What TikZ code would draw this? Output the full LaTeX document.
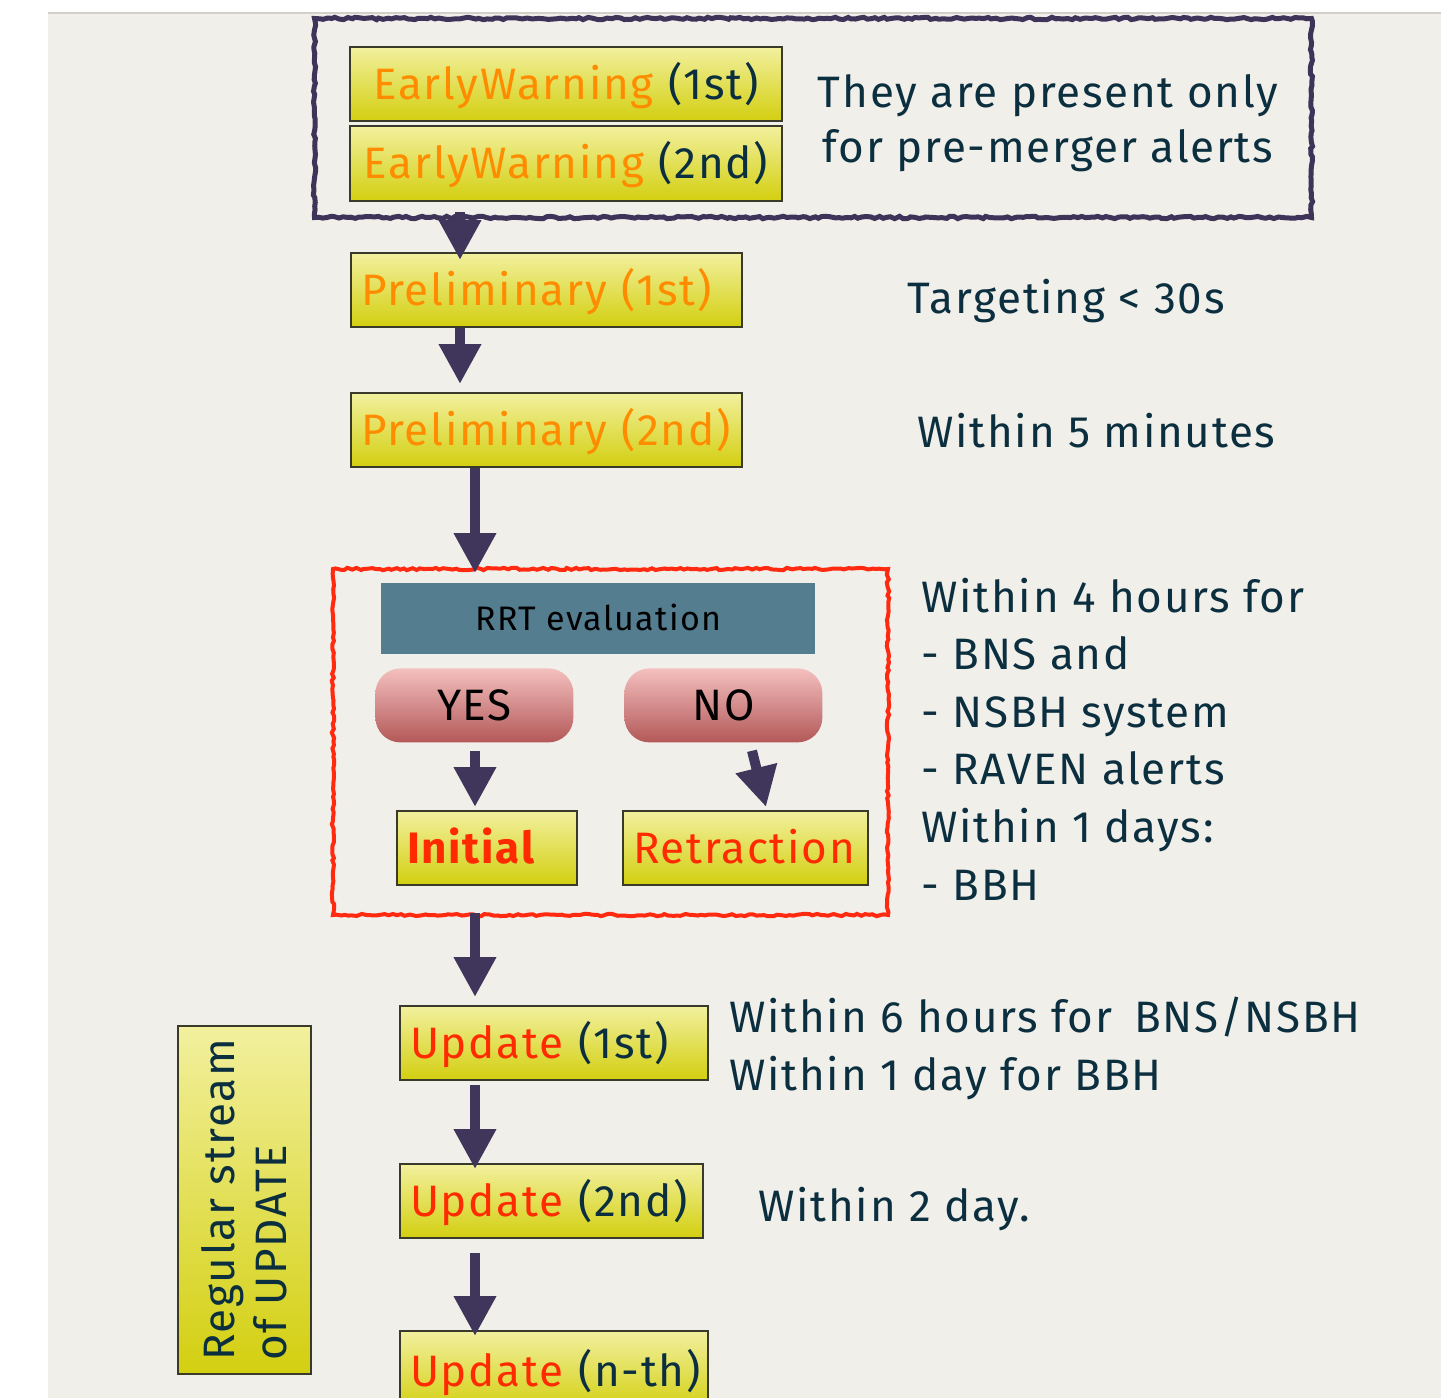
\documentclass[tikz,border=0pt]{standalone}
\usepackage{fontspec}
\setmainfont{Fira Sans}[Ligatures=NoCommon, LetterSpace=4]
\usetikzlibrary{arrows.meta,calc,decorations.pathmorphing}
\definecolor{paper}{HTML}{F1EFEA}
\definecolor{paperedge}{HTML}{D2CFCA}
\definecolor{frameP}{HTML}{3E3359}
\definecolor{arrowC}{HTML}{40355A}
\definecolor{ytop}{HTML}{F2F09E}
\definecolor{ybot}{HTML}{D3CF10}
\definecolor{yborder}{HTML}{3A3A2A}
\definecolor{orangeT}{HTML}{FF8C00}
\definecolor{darkT}{HTML}{0B2F3F}
\definecolor{redT}{HTML}{FF2A00}
\definecolor{frameR}{HTML}{FF2A10}
\definecolor{rrtC}{HTML}{547E90}
\definecolor{ptop}{HTML}{F4C0BF}
\definecolor{pbot}{HTML}{B35858}
\tikzset{
  ybox/.style={draw=yborder, line width=1pt, top color=ytop, bottom color=ybot,
    inner xsep=5pt, inner ysep=0pt, text width=#1, minimum height=37pt,
    text height=15pt, text depth=0pt, anchor=north west, text=darkT,
    font=\fontsize{22}{25}\selectfont},
  sketchframe/.style={line width=2.5pt, decorate,
    decoration={random steps, segment length=2pt, amplitude=0.6pt},
    anchor=north west, inner sep=0pt},
  pill/.style={rounded corners=12.5pt, top color=ptop, bottom color=pbot,
    minimum width=99pt, minimum height=37pt, anchor=north west, inner sep=0pt,
    text height=15pt, text depth=0pt, text=black, font=\fontsize{22}{25}\selectfont},
  rtext/.style={inner sep=0pt, text=darkT, font=\fontsize{22}{24}\selectfont},
  arr/.style={draw=arrowC, line width=5pt, -{Triangle[width=20pt,length=20pt]}},
}
\begin{document}
\pgfmathsetseed{7}
\begin{tikzpicture}[x=0.5pt,y=-0.5pt]
\useasboundingbox (0,0) rectangle (1441,1398);
\clip (0,0) rectangle (1441,1398);
\fill[white] (0,0) rectangle (1441,1398);
\fill[paper] (48,12) rectangle (1441,1398);
\draw[paperedge, line width=1pt] (48,12.5) -- (1441,12.5);

% frames
\node[sketchframe, draw=frameP, minimum width=498.5pt, minimum height=99.5pt] (pfr) at (312,16) {};
\node[sketchframe, draw=frameR, line width=2pt, minimum width=277.5pt, minimum height=173pt] (rfr) at (331,567) {};

% early warning
\node[ybox=206pt, align=center] (ew1) at (349,46) {\textcolor{orangeT}{EarlyWarning} (1st)};
\node[ybox=206pt, align=center, minimum height=37.5pt] (ew2) at (349,125) {\textcolor{orangeT}{EarlyWarning} (2nd)};

% preliminary
\node[ybox=185.5pt, align=left, text=orangeT] (pre1) at (350,252) {Preliminary (1st)};
\node[ybox=185.5pt, align=left, text=orangeT] (pre2) at (350,392) {Preliminary (2nd)};

% RRT
\node[fill=rrtC, minimum width=217pt, minimum height=35.5pt, anchor=north west, inner sep=0pt,
  text height=11.7pt, text depth=0pt,
  text=black, font=\fontsize{17}{20}\selectfont] (rrt) at (381,583) {RRT evaluation};
\node[pill] (yes) at (375,668) {YES};
\node[pill] (no) at (624,668) {NO};
\node[ybox=80pt, align=left, text=redT, font=\fontsize{22}{25}\selectfont\bfseries] (init) at (396,810) {Initial};
\node[ybox=112.5pt, align=left, text=redT] (retr) at (622,810) {Retraction};

% updates
\node[ybox=144pt, align=left] (up1) at (399,1005) {\textcolor{redT}{Update} (1st)};
\node[ybox=141.5pt, align=left] (up2) at (399,1163) {\textcolor{redT}{Update} (2nd)};
\node[ybox=144pt, align=left, minimum height=40pt] (upn) at (399,1330) {\mbox{\textcolor{redT}{Update} (n-th)}};

% regular stream
\node[rotate=90, draw=yborder, line width=1pt, top color=ytop, bottom color=ybot,
  minimum width=174pt, minimum height=66.5pt, inner sep=0pt, align=left, text=darkT,
  font=\fontsize{22}{26}\selectfont] (reg) at (244.5,1200) {Regular stream\\of UPDATE};

% right texts
\node[rtext, anchor=base] (t1a) at (1048,107) {They are present only};
\node[rtext, anchor=base] (t1b) at (1048,162) {for pre-merger alerts};
\node[rtext, anchor=base west] (t2) at (907,313) {Targeting < 30s};
\node[rtext, anchor=base west] (t3) at (917,447) {Within 5 minutes};
\node[rtext, anchor=base west] (t4) at (921,612) {Within 4 hours for};
\node[rtext, anchor=base west] (t5) at (921,669) {- BNS and};
\node[rtext, anchor=base west] (t6) at (921,727) {- NSBH system};
\node[rtext, anchor=base west] (t7) at (921,784) {- RAVEN alerts};
\node[rtext, anchor=base west] (t8) at (921,842) {Within 1 days:};
\node[rtext, anchor=base west] (t9) at (921,900) {- BBH};
\node[rtext, anchor=base west] (t10) at (729,1032) {Within 6 hours for\hspace{0.5em}BNS/NSBH};
\node[rtext, anchor=base west] (t11) at (729,1090) {Within 1 day for BBH};
\node[rtext, anchor=base west] (t12) at (758,1221) {Within 2 day.};

% arrows
\draw[arr] ($(pfr.south west)+(148,-8)$) -- ($(pre1.north west)+(110,8)$);
\draw[arr] ($(pre1.south west)+(110,0)$) -- ($(pre2.north west)+(110,-8)$);
\draw[arr] ($(pre2.south west)+(125,0)$) -- ($(rfr.north west)+(144,6)$);
\draw[arr] ($(yes.south west)+(100,8)$) -- ($(init.north west)+(79,-3)$);
\draw[arr] ($(no.south west)+(128,8)$) -- ($(retr.north west)+(144,-3)$);
\draw[arr] ($(rfr.south west)+(144,-4)$) -- ($(up1.north west)+(76,-8)$);
\draw[arr] ($(up1.south west)+(76,4)$) -- ($(up2.north west)+(76,6)$);
\draw[arr] ($(up2.south west)+(76,14)$) -- ($(upn.north west)+(76,6)$);
\end{tikzpicture}
\end{document}
